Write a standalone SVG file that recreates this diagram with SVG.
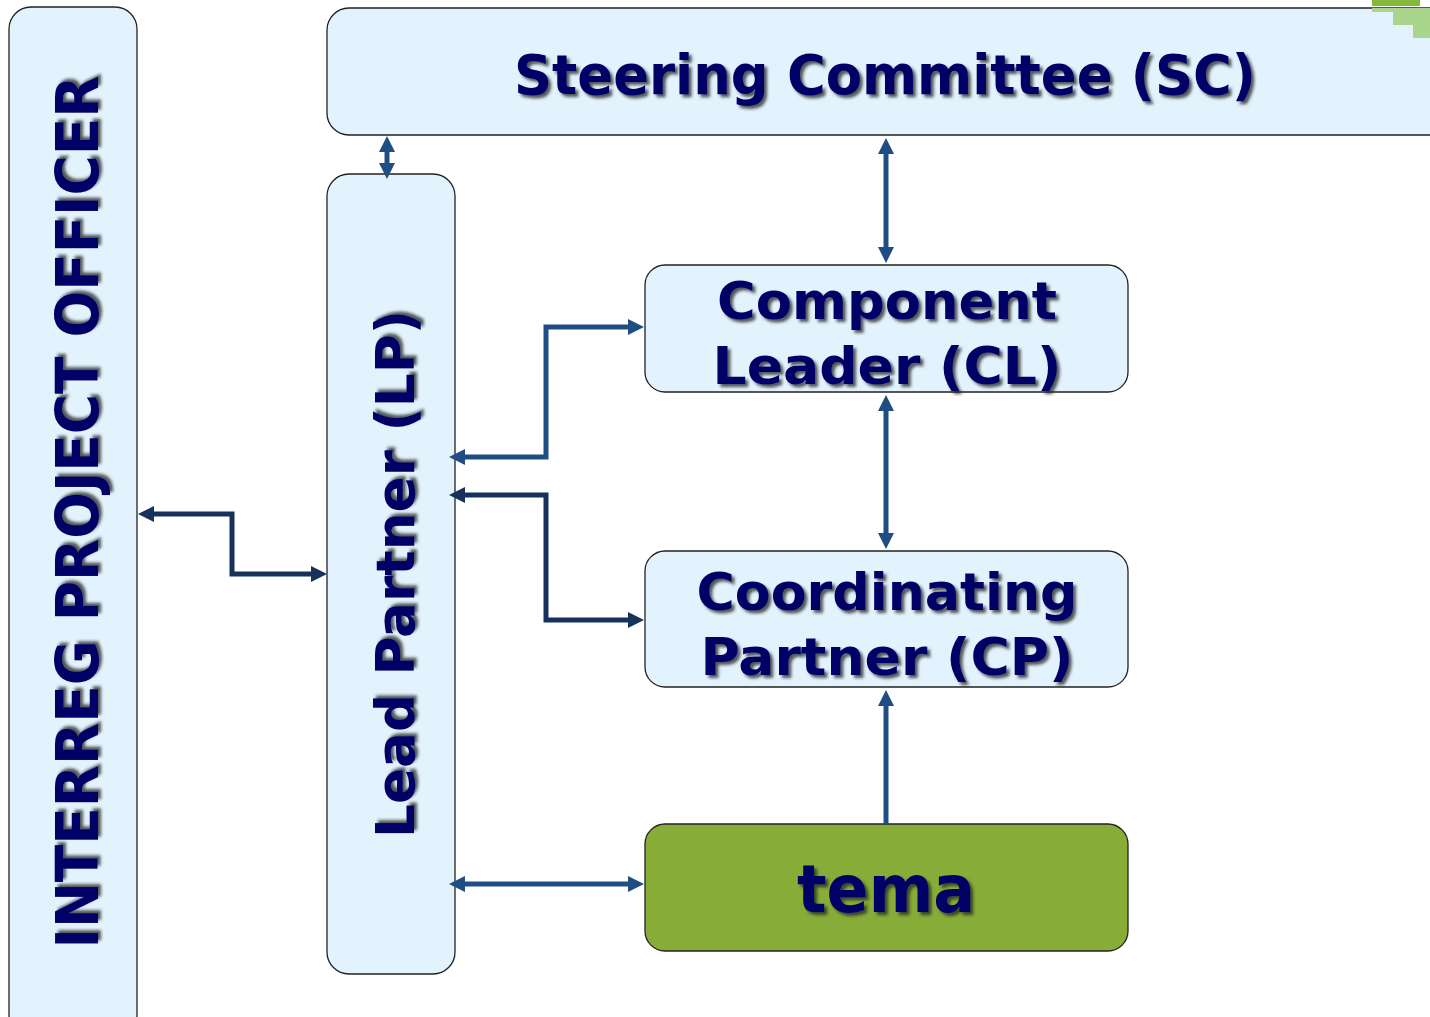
<svg xmlns="http://www.w3.org/2000/svg" width="1430" height="1017" viewBox="0 0 1430 1017">
<defs>
<style>
.box{fill:#E3F3FD;stroke:#222;stroke-width:1.3}
.green{fill:#87AD38;stroke:#222;stroke-width:1.3}
.t{font-family:"DejaVu Sans",Verdana,sans-serif;font-weight:bold;fill:#000066;text-anchor:middle;filter:url(#sh)}
.c1{fill:none;stroke:#1F4E85;stroke-width:5}
.c2{fill:none;stroke:#15315C;stroke-width:5}
</style>
<filter id="sh" x="-10%" y="-30%" width="120%" height="160%">
<feGaussianBlur in="SourceAlpha" stdDeviation="1.5"/>
<feOffset dx="3" dy="3" result="b"/>
<feFlood flood-color="#222" flood-opacity="0.75"/>
<feComposite in2="b" operator="in"/>
<feMerge><feMergeNode/><feMergeNode in="SourceGraphic"/></feMerge>
</filter>
<marker id="a1" markerUnits="userSpaceOnUse" markerWidth="18" markerHeight="17" refX="4" refY="8" orient="auto-start-reverse"><path d="M0,0 L16,8 L0,16 z" fill="#1F4E85"/></marker>
<marker id="a2" markerUnits="userSpaceOnUse" markerWidth="18" markerHeight="17" refX="4" refY="8" orient="auto-start-reverse"><path d="M0,0 L16,8 L0,16 z" fill="#15315C"/></marker>
</defs>
<g id="ipo">
<rect class="box" x="9" y="7" width="128" height="1030" rx="22"/>
<text class="t" font-size="58" textLength="873" lengthAdjust="spacingAndGlyphs" transform="translate(98,512) rotate(-90)">INTERREG PROJECT OFFICER</text>
</g>
<g id="sc">
<rect class="box" x="327" y="8" width="1130" height="127" rx="22"/>
<rect x="1372" y="0" width="48" height="6" fill="#86B83C"/>
<polygon points="1372,8 1430,8 1430,38 1413,38 1413,25 1393,25 1393,12 1372,12" fill="#A9D68C"/>
<text class="t" x="885" y="94" font-size="55" textLength="742" lengthAdjust="spacingAndGlyphs">Steering Committee (SC)</text>
</g>
<g id="lp">
<rect class="box" x="327" y="174" width="128" height="800" rx="22"/>
<text class="t" font-size="53" textLength="528" lengthAdjust="spacingAndGlyphs" transform="translate(414,574) rotate(-90)">Lead Partner (LP)</text>
</g>
<g id="cl">
<rect class="box" x="645" y="265" width="483" height="127" rx="20"/>
<text class="t" x="887" y="319" font-size="52" textLength="340" lengthAdjust="spacingAndGlyphs">Component</text>
<text class="t" x="887" y="384" font-size="52" textLength="349" lengthAdjust="spacingAndGlyphs">Leader (CL)</text>
</g>
<g id="cp">
<rect class="box" x="645" y="551" width="483" height="136" rx="20"/>
<text class="t" x="887" y="610" font-size="52" textLength="381" lengthAdjust="spacingAndGlyphs">Coordinating</text>
<text class="t" x="887" y="675" font-size="52" textLength="373" lengthAdjust="spacingAndGlyphs">Partner (CP)</text>
</g>
<g id="tema">
<rect class="green" x="645" y="824" width="483" height="127" rx="20"/>
<text class="t" x="886" y="912" font-size="66" textLength="178" lengthAdjust="spacingAndGlyphs">tema</text>
</g>
<g id="connectors">
<path class="c1" d="M387,148 V167" marker-start="url(#a1)" marker-end="url(#a1)"/>
<path class="c1" d="M886,150 V251" marker-start="url(#a1)" marker-end="url(#a1)"/>
<path class="c1" d="M886,407 V537" marker-start="url(#a1)" marker-end="url(#a1)"/>
<path class="c1" d="M886,824 V702" marker-end="url(#a1)"/>
<path class="c1" d="M461,884 H632" marker-start="url(#a1)" marker-end="url(#a1)"/>
<path class="c1" d="M461,457 H546 V327 H632" marker-start="url(#a1)" marker-end="url(#a1)"/>
<path class="c2" d="M461,495 H546 V620 H632" marker-start="url(#a2)" marker-end="url(#a2)"/>
<path class="c2" d="M150,514 H232 V574 H315" marker-start="url(#a2)" marker-end="url(#a2)"/>
</g>
</svg>
